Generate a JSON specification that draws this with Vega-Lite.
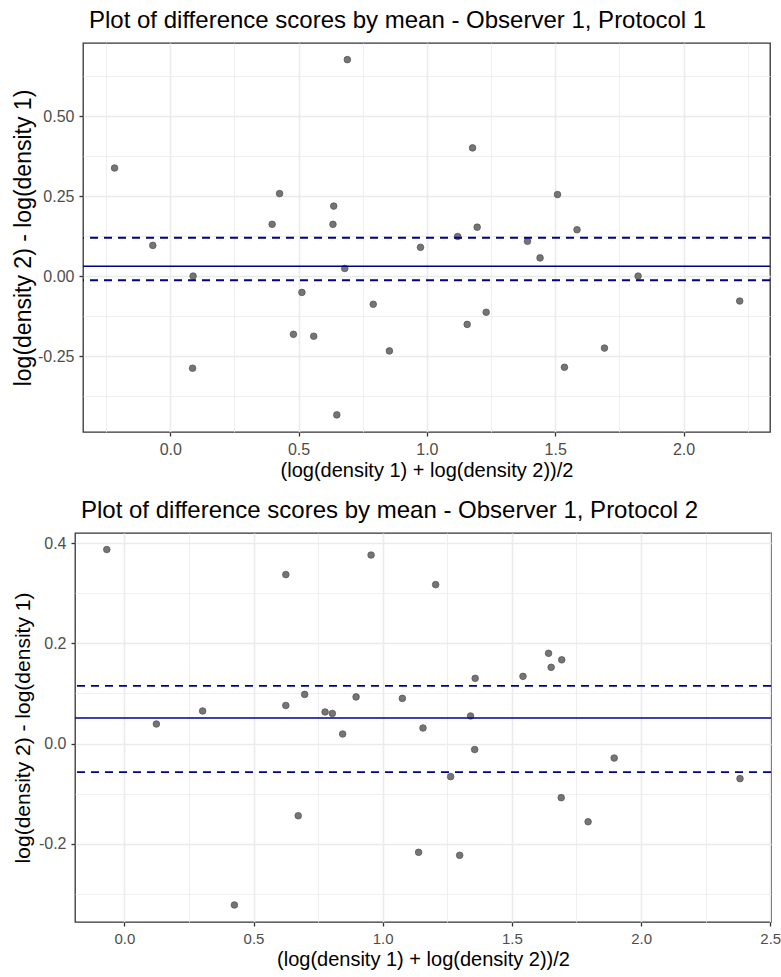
{
  "$schema": "https://vega.github.io/schema/vega-lite/v6.json",
  "padding": {"left": 4, "top": 8, "right": 0, "bottom": 4},
  "spacing": 17,
  "config": {
    "font": "Liberation Sans",
    "view": {"stroke": "#333333", "strokeWidth": 1.3},
    "axis": {
      "domain": false,
      "labelFont": "Liberation Sans",
      "labelFontSize": 16,
      "labelColor": "#4D4D4D",
      "titleFont": "Liberation Sans",
      "titleFontWeight": "normal",
      "titleColor": "#000000",
      "titleFontSize": 20,
      "tickColor": "#333333",
      "tickWidth": 1.3,
      "gridColor": "#EBEBEB",
      "labelOverlap": false,
      "labelFlush": false,
      "labelPadding": 5,
      "titlePadding": 3
    },
    "title": {"font": "Liberation Sans", "fontSize": 24, "fontWeight": "normal", "color": "#000000", "anchor": "start", "frame": "group", "offset": 10, "dx": 6}
  },
  "datasets": {
    "p1": [
      {"mean": -0.217, "diff": 0.338}, {"mean": 0.690, "diff": 0.677}, {"mean": 0.426, "diff": 0.258},
      {"mean": 0.397, "diff": 0.162}, {"mean": 0.637, "diff": 0.219}, {"mean": 0.634, "diff": 0.162},
      {"mean": -0.068, "diff": 0.096}, {"mean": 1.178, "diff": 0.401}, {"mean": 1.509, "diff": 0.255},
      {"mean": 1.196, "diff": 0.153}, {"mean": 1.585, "diff": 0.145}, {"mean": 1.120, "diff": 0.124},
      {"mean": 1.392, "diff": 0.109}, {"mean": 0.975, "diff": 0.090}, {"mean": 0.089, "diff": 0.000},
      {"mean": 0.680, "diff": 0.024}, {"mean": 0.513, "diff": -0.051}, {"mean": 0.791, "diff": -0.088},
      {"mean": 0.480, "diff": -0.182}, {"mean": 0.559, "diff": -0.188}, {"mean": 0.854, "diff": -0.234},
      {"mean": 0.087, "diff": -0.288}, {"mean": 0.649, "diff": -0.434}, {"mean": 1.441, "diff": 0.057},
      {"mean": 1.823, "diff": 0.000}, {"mean": 2.219, "diff": -0.078}, {"mean": 1.231, "diff": -0.113},
      {"mean": 1.157, "diff": -0.151}, {"mean": 1.692, "diff": -0.225}, {"mean": 1.536, "diff": -0.285}
    ],
    "p2": [
      {"mean": -0.068, "diff": 0.387}, {"mean": 0.625, "diff": 0.337}, {"mean": 0.955, "diff": 0.376},
      {"mean": 0.303, "diff": 0.065}, {"mean": 0.625, "diff": 0.076}, {"mean": 0.698, "diff": 0.098},
      {"mean": 0.777, "diff": 0.063}, {"mean": 0.805, "diff": 0.060}, {"mean": 0.897, "diff": 0.093},
      {"mean": 1.205, "diff": 0.317}, {"mean": 1.642, "diff": 0.180}, {"mean": 1.693, "diff": 0.167},
      {"mean": 1.652, "diff": 0.152}, {"mean": 1.543, "diff": 0.134}, {"mean": 1.358, "diff": 0.130},
      {"mean": 1.076, "diff": 0.090}, {"mean": 1.340, "diff": 0.055}, {"mean": 0.124, "diff": 0.039},
      {"mean": 0.845, "diff": 0.019}, {"mean": 0.673, "diff": -0.144}, {"mean": 0.426, "diff": -0.322},
      {"mean": 1.156, "diff": 0.031}, {"mean": 1.356, "diff": -0.012}, {"mean": 1.896, "diff": -0.029},
      {"mean": 1.263, "diff": -0.066}, {"mean": 2.383, "diff": -0.070}, {"mean": 1.691, "diff": -0.108},
      {"mean": 1.795, "diff": -0.156}, {"mean": 1.139, "diff": -0.217}, {"mean": 1.298, "diff": -0.223}
    ],
    "m1": [{"diff": 0.031}],
    "l1": [{"diff": 0.12}, {"diff": -0.013}],
    "m2": [{"diff": 0.051}],
    "l2": [{"diff": 0.115}, {"diff": -0.057}],
    "none": [{"k": 0}]
  },
  "vconcat": [
    {
      "spacing": 0,
      "hconcat": [
        {
          "width": 1, "height": 1,
          "view": {"stroke": null},
          "data": {"name": "none"},
          "mark": {"type": "point", "opacity": 0},
          "encoding": {}
        },
        {
          "title": "Plot of difference scores by mean - Observer 1, Protocol 1",
          "width": 687,
          "height": 389,
          "layer": [
            {
              "data": {"name": "p1"},
              "mark": {"type": "circle", "size": 44, "fill": "#757575", "stroke": "#505050", "strokeWidth": 0.7, "opacity": 1},
              "encoding": {
                "x": {
                  "field": "mean", "type": "quantitative",
                  "title": "(log(density 1) + log(density 2))/2",
                  "scale": {"domain": [-0.34, 2.337], "nice": false, "zero": false},
                  "axis": {
                    "values": [-0.25, 0, 0.25, 0.5, 0.75, 1, 1.25, 1.5, 1.75, 2, 2.25],
                    "labelExpr": "abs(datum.value*2 - round(datum.value*2)) < 1e-6 ? replace(format(datum.value, '.1f'), '\u2212', '-') : ''",
                    "gridWidth": {"condition": {"test": "abs(datum.value*2 - round(datum.value*2)) < 1e-6", "value": 1.6}, "value": 0.8},
                    "tickSize": {"condition": {"test": "abs(datum.value*2 - round(datum.value*2)) < 1e-6", "value": 4}, "value": 0}
                  }
                },
                "y": {
                  "field": "diff", "type": "quantitative",
                  "title": "log(density 2) - log(density 1)",
                  "scale": {"domain": [-0.4875, 0.729], "nice": false, "zero": false},
                  "axis": {
                    "titleFontSize": 23,
                    "titlePadding": 2,
                    "values": [-0.375, -0.25, -0.125, 0, 0.125, 0.25, 0.375, 0.5, 0.625],
                    "labelExpr": "abs(datum.value*4 - round(datum.value*4)) < 1e-6 ? replace(format(datum.value, '.2f'), '\u2212', '-') : ''",
                    "gridWidth": {"condition": {"test": "abs(datum.value*4 - round(datum.value*4)) < 1e-6", "value": 1.6}, "value": 0.8},
                    "tickSize": {"condition": {"test": "abs(datum.value*4 - round(datum.value*4)) < 1e-6", "value": 4}, "value": 0}
                  }
                }
              }
            },
            {
              "data": {"name": "m1"},
              "mark": {"type": "rule", "color": "#00008B", "strokeWidth": 1.6},
              "encoding": {"y": {"field": "diff", "type": "quantitative"}}
            },
            {
              "data": {"name": "l1"},
              "mark": {"type": "rule", "color": "#00008B", "strokeWidth": 1.8, "strokeDash": [8, 6]},
              "encoding": {"y": {"field": "diff", "type": "quantitative"}}
            }
          ]
        }
      ]
    },
    {
      "spacing": 0,
      "hconcat": [
        {
          "width": 1, "height": 1,
          "view": {"stroke": null},
          "data": {"name": "none"},
          "mark": {"type": "point", "opacity": 0},
          "encoding": {}
        },
        {
          "title": "Plot of difference scores by mean - Observer 1, Protocol 2",
          "width": 696,
          "height": 389,
          "layer": [
            {
              "data": {"name": "p2"},
              "mark": {"type": "circle", "size": 44, "fill": "#757575", "stroke": "#505050", "strokeWidth": 0.7, "opacity": 1},
              "encoding": {
                "x": {
                  "field": "mean", "type": "quantitative",
                  "title": "(log(density 1) + log(density 2))/2",
                  "scale": {"domain": [-0.191, 2.503], "nice": false, "zero": false},
                  "axis": {
                    "labelFontSize": 15,
                    "values": [0, 0.25, 0.5, 0.75, 1, 1.25, 1.5, 1.75, 2, 2.25, 2.5],
                    "labelExpr": "abs(datum.value*2 - round(datum.value*2)) < 1e-6 ? replace(format(datum.value, '.1f'), '\u2212', '-') : ''",
                    "gridWidth": {"condition": {"test": "abs(datum.value*2 - round(datum.value*2)) < 1e-6", "value": 1.6}, "value": 0.8},
                    "tickSize": {"condition": {"test": "abs(datum.value*2 - round(datum.value*2)) < 1e-6", "value": 4}, "value": 0}
                  }
                },
                "y": {
                  "field": "diff", "type": "quantitative",
                  "title": "log(density 2) - log(density 1)",
                  "scale": {"domain": [-0.356, 0.42], "nice": false, "zero": false},
                  "axis": {
                    "titleFontSize": 21,
                    "titlePadding": 5,
                    "values": [-0.3, -0.2, -0.1, 0, 0.1, 0.2, 0.3, 0.4],
                    "labelExpr": "abs(datum.value*5 - round(datum.value*5)) < 1e-6 ? replace(format(datum.value, '.1f'), '\u2212', '-') : ''",
                    "gridWidth": {"condition": {"test": "abs(datum.value*5 - round(datum.value*5)) < 1e-6", "value": 1.6}, "value": 0.8},
                    "tickSize": {"condition": {"test": "abs(datum.value*5 - round(datum.value*5)) < 1e-6", "value": 4}, "value": 0}
                  }
                }
              }
            },
            {
              "data": {"name": "m2"},
              "mark": {"type": "rule", "color": "#00008B", "strokeWidth": 1.6},
              "encoding": {"y": {"field": "diff", "type": "quantitative"}}
            },
            {
              "data": {"name": "l2"},
              "mark": {"type": "rule", "color": "#00008B", "strokeWidth": 1.8, "strokeDash": [8, 6]},
              "encoding": {"y": {"field": "diff", "type": "quantitative"}}
            }
          ]
        }
      ]
    }
  ]
}
